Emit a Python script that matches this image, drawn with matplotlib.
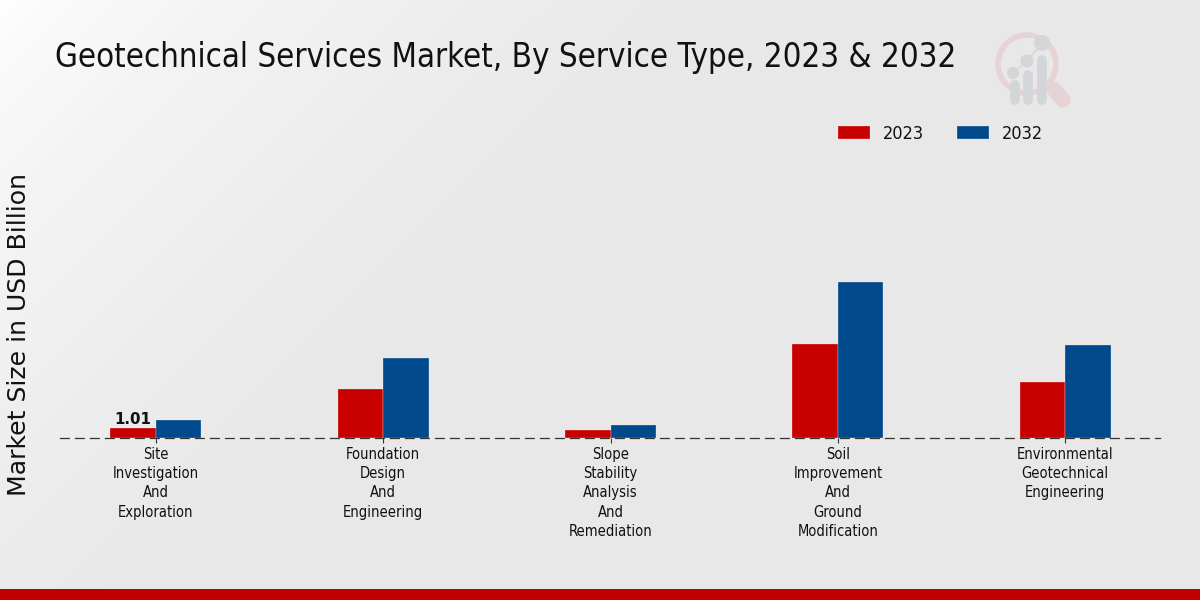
import matplotlib
import matplotlib.pyplot as plt
import numpy as np
from matplotlib.patches import Circle, Rectangle

matplotlib.use("Agg")

categories = [
    "Site\nInvestigation\nAnd\nExploration",
    "Foundation\nDesign\nAnd\nEngineering",
    "Slope\nStability\nAnalysis\nAnd\nRemediation",
    "Soil\nImprovement\nAnd\nGround\nModification",
    "Environmental\nGeotechnical\nEngineering",
]
values_2023 = [1.01, 4.9, 0.8, 9.5, 5.65]
values_2032 = [1.8, 8.1, 1.3, 15.7, 9.4]

RED = "#c80000"
BLUE = "#004a8b"
COND = dict(family="DejaVu Sans", stretch="condensed")

fig = plt.figure(figsize=(12, 6), dpi=100)

# page background, fades from white in the top left corner
bg = fig.add_axes([0, 0, 1, 1], zorder=0)
yy, xx = np.mgrid[0:600:300j, 0:1200:600j]
fade = np.clip((xx + yy) / 700, 0, 1) ** 0.6
bg.imshow(255 - (255 - 232) * fade, cmap="gray", vmin=0, vmax=255, aspect="auto",
          extent=(0, 1200, 600, 0))
bg.set_xlim(0, 1200)
bg.set_ylim(600, 0)
bg.axis("off")
bg.add_patch(Rectangle((0, 589), 1200, 11, color="#c00000", lw=0))

# logo
bg.add_patch(Circle((1027, 64), 29, fill=False, ec="#e6d3d5", lw=4))
bg.plot([1054, 1063], [89, 100], color="#e6d3d5", lw=11, solid_capstyle="round")
for x, top in [(1015, 85), (1028, 75), (1042, 60)]:
    bg.plot([x, x], [top, 100], color="#d3d5d8", lw=7, solid_capstyle="round")
bg.plot([1013, 1027, 1042], [73, 61, 43], color="#d3d5d8", lw=1)
for x, y, r in [(1013, 73, 6), (1027, 61, 6.5), (1042, 43, 8)]:
    bg.add_patch(Circle((x, y), r, color="#d3d5d8", lw=0))

# plot area, baseline sits at y=438 px
ax = fig.add_axes([60 / 1200, (600 - 438) / 600, 1100 / 1200, 318 / 600], zorder=1)
ax.patch.set_alpha(0)

x = np.arange(len(categories))
width = 0.2
ax.bar(x - width / 2, values_2023, width, color=RED, edgecolor="#f2f2f2", linewidth=0.2, label="2023")
ax.bar(x + width / 2, values_2032, width, color=BLUE, edgecolor="#f2f2f2", linewidth=0.2, label="2032")
ax.set_xlim(-0.422, 4.417)
ax.set_ylim(0, 32.1)

ax.text(x[0] - width / 2, values_2023[0] + 0.1, f"{values_2023[0]:.2f}", ha="center", va="bottom",
        fontsize=10.8, fontweight="bold", color="#111111")

for side in ["top", "left", "right"]:
    ax.spines[side].set_visible(False)
ax.spines["bottom"].set_linestyle((0, (7, 5)))
ax.spines["bottom"].set_color("#333333")
ax.spines["bottom"].set_linewidth(0.9)
ax.spines["bottom"].set_zorder(5)
ax.set_yticks([])
ax.set_xticks(x)
ax.set_xticklabels(categories, fontsize=10.5, linespacing=1.36, color="#111111", **COND)
ax.tick_params(axis="x", length=3.5, width=0.8, color="#333333", pad=2.7)

ax.legend(loc="upper left", bbox_to_anchor=(0.6927, 1.036), ncol=2, frameon=False,
          prop=dict(size=13, **COND), handlelength=1.78, handleheight=0.72,
          columnspacing=1.79, handletextpad=0.72, labelcolor="#111111")

fig.text(55 / 1200, 1 - 58 / 600, "Geotechnical Services Market, By Service Type, 2023 & 2032",
         fontsize=23.7, va="center", ha="left", color="#111111", **COND)
fig.text(19 / 1200, 1 - 334 / 600, "Market Size in USD Billion", fontsize=18.1, rotation=90,
         va="center", ha="center", color="#111111")

fig.savefig("out.png", dpi=100)
